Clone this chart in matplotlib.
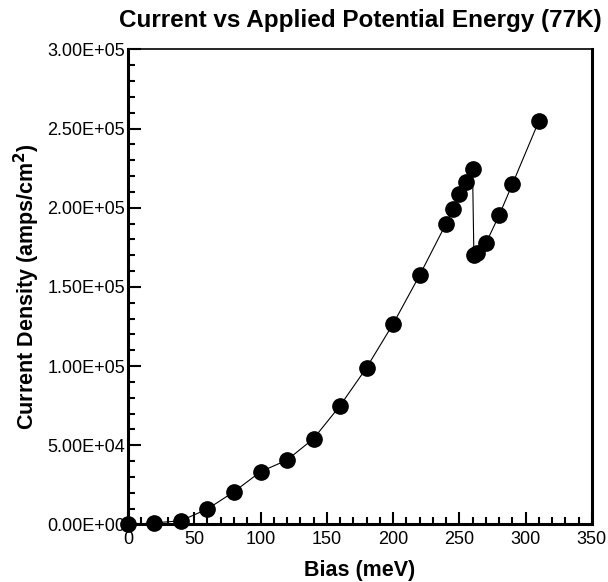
import numpy as np
import matplotlib
matplotlib.use("Agg")
import matplotlib.pyplot as plt
from matplotlib.ticker import MultipleLocator, FuncFormatter

# ── Datos ─────────────────────────────────────────────────────────────────
bias_mev = [0, 20, 40, 60, 80, 100, 120, 140, 160, 180, 200, 220,
            240, 245, 250, 255, 260, 261, 263, 270, 280, 290, 310]
current_density = [0, 1000, 2400, 9800, 20700, 33300, 40700, 54200,
                   75000, 99000, 126600, 157300, 190000, 199200, 208500,
                   216400, 224200, 170100, 171600, 177500, 195200, 214800,
                   254700]

plt.rcParams["font.family"] = ["Liberation Sans", "DejaVu Sans"]

fig = plt.figure(figsize=(6.08, 5.82), dpi=100)
ax = fig.add_axes([0.2105, 0.0988, 0.7629, 0.8162])

ax.plot(bias_mev, current_density, color="black", linewidth=0.8,
        marker="o", markersize=11, markerfacecolor="black",
        markeredgecolor="black", clip_on=False, zorder=3)

ax.set_xlim(0, 350)
ax.set_ylim(0, 3.0e5)
ax.xaxis.set_major_locator(MultipleLocator(50))
ax.xaxis.set_minor_locator(MultipleLocator(10))
ax.yaxis.set_major_locator(MultipleLocator(5e4))
ax.yaxis.set_minor_locator(MultipleLocator(1e4))
ax.yaxis.set_major_formatter(FuncFormatter(lambda v, p: f"{v:.2E}"))

ax.tick_params(which="both", direction="in", top=False, right=False,
               width=1.5, labelsize=13)
ax.tick_params(which="major", length=9)
ax.tick_params(which="minor", length=5)
ax.tick_params(axis="x", pad=5)
ax.tick_params(axis="y", pad=2)

for side in ("left", "bottom", "right"):
    ax.spines[side].set_linewidth(2.2)
ax.spines["top"].set_linewidth(1.2)

ax.set_xlabel("Bias (meV)", fontsize=15.5, fontweight="bold", labelpad=8)
ax.set_ylabel("Current Density (amps/cm$^\\mathbf{2}$)", fontsize=15.5,
              fontweight="bold", labelpad=4)
ax.set_title("Current vs Applied Potential Energy (77K)", fontsize=17.5,
             fontweight="bold", pad=16)

plt.savefig("out.png", dpi=100)
plt.close("all")
